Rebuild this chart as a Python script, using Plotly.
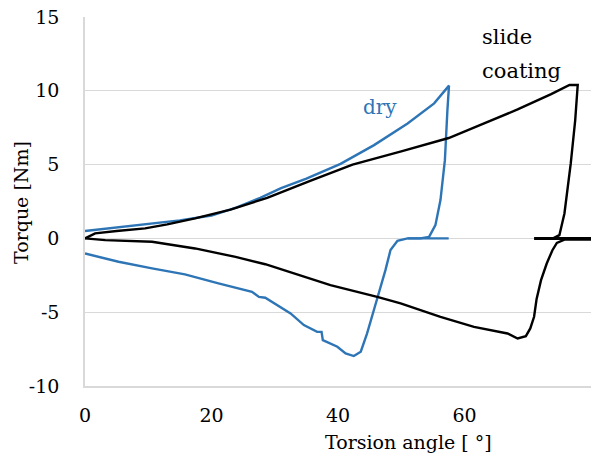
import plotly.graph_objects as go

# ---- data ----
dry_x = [0, 5, 10, 15, 20, 24, 27.7, 31, 35, 40.4, 45.7, 51.0, 55.2, 57.55,
         57.3, 56.9, 56.2, 55.4, 54.4, 53.0, 51.0, 49.4, 48.3, 47.5, 46.2, 44.6, 43.6,
         42.5, 41.2, 39.9, 37.6, 37.4, 36.7, 34.6, 32.5, 28.5, 27.5, 26.4, 21.1,
         15.8, 10.6, 5.3, 0]
dry_y = [0.5, 0.75, 1.0, 1.22, 1.55, 2.1, 2.75, 3.4, 4.05, 5.05, 6.32, 7.79, 9.15, 10.35,
         8.7, 5.3, 2.6, 0.9, 0.1, 0.0, 0.0, -0.16, -0.79, -2.15, -4.07, -6.44, -7.68,
         -7.97, -7.79, -7.34, -6.89, -6.33, -6.33, -5.87, -5.08, -4.02, -3.96, -3.62, -3.05,
         -2.44, -2.03, -1.58, -1.02]
dry_flat_x = [51.0, 57.5]
dry_flat_y = [0.0, 0.0]

slide_x = [0, 1.6, 5, 9.5, 13, 17.4, 23, 28.8, 35.6, 42.3, 50, 57.5, 63.1, 68.4, 73.7,
           76.6, 77.9, 77.8, 77.5, 76.8, 75.8, 75.0, 74.0]
slide_y = [0, 0.34, 0.5, 0.68, 0.95, 1.36, 1.95, 2.75, 3.9, 5.0, 5.9, 6.8, 7.79, 8.74, 9.78,
           10.39, 10.39, 9.7, 8.0, 5.08, 1.69, 0.22, 0.0]
slide_flat_x = [71.0, 80.0]
slide_flat_y = [0.0, 0.0]
slide_neg_x = [80, 75.8, 74.6, 73.9, 73.0, 72.1, 71.4, 71.0, 70.4, 69.7, 68.4, 66.8, 61.5,
               56.2, 49.9, 46.2, 38.8, 30.9, 28.5, 23.8, 17.4, 10.6, 3.2, 0]
slide_neg_y = [-0.07, -0.08, -0.3, -0.8, -1.7, -2.83, -4.1, -5.31, -6.1, -6.62, -6.78, -6.44,
               -5.99, -5.31, -4.4, -3.96, -3.16, -2.05, -1.75, -1.25, -0.68, -0.23, -0.12, 0]

x_ticks = [0, 20, 40, 60, 80]
x_tick_labels = ["0", "20", "40", "60", "80"]
y_ticks = [-10, -5, 0, 5, 10, 15]
y_tick_labels = ["-10", "-5", "0", "5", "10", "15"]

BLUE = "#2E75B6"
BLACK = "#000000"
FONT = "DejaVu Serif"

fig = go.Figure()
line_w = 2.4
fig.add_trace(go.Scatter(x=dry_x, y=dry_y, mode="lines", line=dict(color=BLUE, width=line_w), showlegend=False))
fig.add_trace(go.Scatter(x=dry_flat_x, y=dry_flat_y, mode="lines", line=dict(color=BLUE, width=line_w), showlegend=False))
fig.add_trace(go.Scatter(x=slide_x, y=slide_y, mode="lines", line=dict(color=BLACK, width=line_w), showlegend=False))
fig.add_trace(go.Scatter(x=slide_flat_x, y=slide_flat_y, mode="lines", line=dict(color=BLACK, width=line_w + 0.6), showlegend=False))
fig.add_trace(go.Scatter(x=slide_neg_x, y=slide_neg_y, mode="lines", line=dict(color=BLACK, width=line_w), showlegend=False))

L, R, T, B = 85, 12, 17, 75
W, H = 603, 461
pw, ph = W - L - R, H - T - B

def px(xp):
    return (xp - L) / pw

def py(yp):
    return (H - B - yp) / ph

annots = [
    dict(text="Torsion angle [ °]", x=px(408), y=py(442), font=dict(family=FONT, size=19, color=BLACK)),
    dict(text="Torque [Nm]", x=px(21), y=py(203), textangle=-90, font=dict(family=FONT, size=19, color=BLACK)),
    dict(text="dry", x=px(380), y=py(107), font=dict(family=FONT, size=20, color=BLUE)),
    dict(text="slide", x=px(480), y=py(37), xanchor="left", font=dict(family=FONT, size=21, color=BLACK)),
    dict(text="coating", x=px(480), y=py(71), xanchor="left", font=dict(family=FONT, size=21, color=BLACK)),
]
for a in annots:
    a.setdefault("xanchor", "center")
    a.update(xref="paper", yref="paper", yanchor="middle", showarrow=False)

fig.update_layout(
    width=W, height=H,
    margin=dict(l=L, r=R, t=T, b=B, pad=0, autoexpand=False),
    paper_bgcolor="white", plot_bgcolor="white",
    font=dict(family=FONT, size=19, color=BLACK),
    annotations=annots,
    xaxis=dict(range=[0, 80], tickvals=x_ticks, ticktext=x_tick_labels, showgrid=False, zeroline=False,
               showline=True, linecolor="#d9d9d9", linewidth=1.5, ticks="", automargin=False,
               ticklabelstandoff=11, tickfont=dict(family=FONT, size=19, color=BLACK)),
    yaxis=dict(range=[-10, 15], tickvals=y_ticks, ticktext=y_tick_labels, showgrid=True, gridcolor="#d9d9d9",
               gridwidth=1.2, zeroline=False, showline=True, linecolor="#d9d9d9", linewidth=1.5,
               ticks="", automargin=False,
               ticklabelstandoff=20, tickfont=dict(family=FONT, size=19, color=BLACK)),
)

fig.write_html("out.html")
